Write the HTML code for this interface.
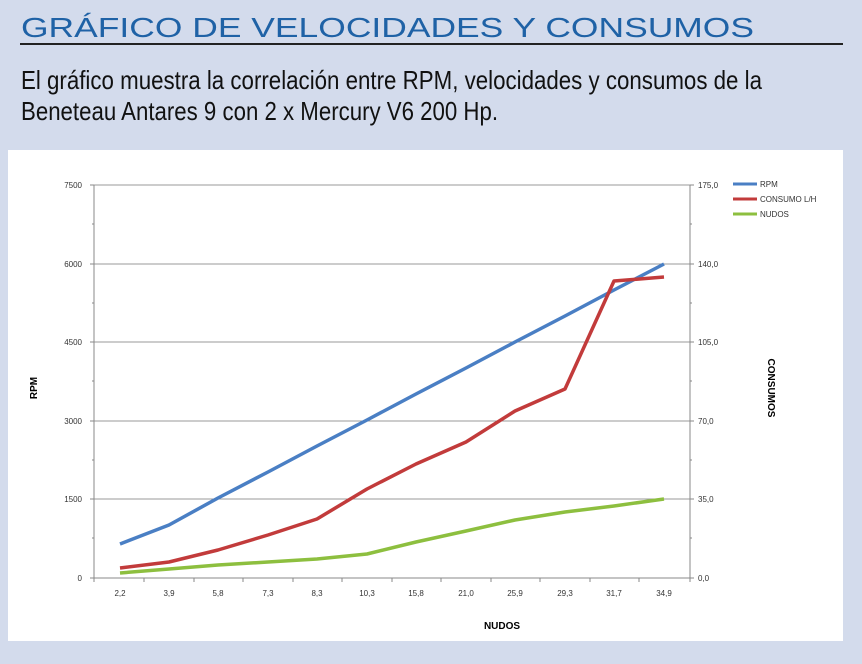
<!DOCTYPE html>
<html><head><meta charset="utf-8"><style>
html,body{margin:0;padding:0;background:#d3dbec;}
svg{display:block}
</style></head><body>
<svg width="862" height="664" viewBox="0 0 862 664" xmlns="http://www.w3.org/2000/svg" font-family="Liberation Sans, sans-serif">
<rect width="862" height="664" fill="#d3dbec"/>
<text x="21" y="37" font-size="28" fill="#1f62a6" textLength="733" lengthAdjust="spacingAndGlyphs">GRÁFICO DE VELOCIDADES Y CONSUMOS</text>
<rect x="20" y="43" width="823" height="2" fill="#222"/>
<text x="21" y="89" font-size="26" fill="#111" textLength="741" lengthAdjust="spacingAndGlyphs">El gráfico muestra la correlación entre RPM, velocidades y consumos de la</text>
<text x="21" y="120" font-size="26" fill="#111" textLength="477" lengthAdjust="spacingAndGlyphs">Beneteau Antares 9 con 2 x Mercury V6 200 Hp.</text>
<rect x="8" y="150" width="835" height="491" fill="#fff"/>
<g stroke="#999" stroke-width="1">
<line x1="94" y1="185" x2="690" y2="185"/>
<line x1="94" y1="264" x2="690" y2="264"/>
<line x1="94" y1="342" x2="690" y2="342"/>
<line x1="94" y1="421" x2="690" y2="421"/>
<line x1="94" y1="499" x2="690" y2="499"/>
</g>
<g stroke="#888" stroke-width="1">
<line x1="94" y1="578" x2="690" y2="578"/>
<line x1="94" y1="185" x2="94" y2="578"/>
<line x1="690" y1="185" x2="690" y2="578"/>
<path d="M90 185h4M90 264h4M90 342h4M90 421h4M90 499h4M90 578h4M690 185h4M690 264h4M690 342h4M690 421h4M690 499h4M690 578h4M92 224h2M92 303h2M92 381h2M92 460h2M92 538h2M690 224h2M690 303h2M690 381h2M690 460h2M690 538h2"/>
<path d="M144 578v4M194 578v4M243 578v4M293 578v4M342 578v4M392 578v4M441 578v4M491 578v4M540 578v4M590 578v4M639 578v4M94 578v4M690 578v4"/>
</g>
<g font-size="8" fill="#333">
<text x="82" y="188" text-anchor="end">7500</text>
<text x="82" y="267" text-anchor="end">6000</text>
<text x="82" y="345" text-anchor="end">4500</text>
<text x="82" y="424" text-anchor="end">3000</text>
<text x="82" y="502" text-anchor="end">1500</text>
<text x="82" y="581" text-anchor="end">0</text>
<text x="698" y="188">175,0</text>
<text x="698" y="267">140,0</text>
<text x="698" y="345">105,0</text>
<text x="698" y="424">70,0</text>
<text x="698" y="502">35,0</text>
<text x="698" y="581">0,0</text>
<g text-anchor="middle">
<text x="120" y="596">2,2</text><text x="169" y="596">3,9</text><text x="218" y="596">5,8</text><text x="268" y="596">7,3</text><text x="317" y="596">8,3</text><text x="367" y="596">10,3</text><text x="416" y="596">15,8</text><text x="466" y="596">21,0</text><text x="515" y="596">25,9</text><text x="565" y="596">29,3</text><text x="614" y="596">31,7</text><text x="664" y="596">34,9</text>
</g>
<text x="760" y="187">RPM</text>
<text x="760" y="202">CONSUMO L/H</text>
<text x="760" y="217">NUDOS</text>
</g>
<line x1="733" y1="184" x2="757" y2="184" stroke="#4a7fc4" stroke-width="3"/>
<line x1="733" y1="199" x2="757" y2="199" stroke="#c23b3b" stroke-width="3"/>
<line x1="733" y1="214" x2="757" y2="214" stroke="#8dbf3f" stroke-width="3"/>
<g font-size="10" font-weight="bold" fill="#000">
<text x="502" y="629" text-anchor="middle">NUDOS</text>
<text transform="translate(37,388) rotate(-90)" text-anchor="middle">RPM</text>
<text transform="translate(768,388) rotate(90)" text-anchor="middle">CONSUMOS</text>
</g>
<g fill="none" stroke-width="3.5" stroke-linejoin="round">
<polyline stroke="#4a7fc4" points="120,544 169,525 218,498 268,472 317,446 367,420 416,394 466,368 515,342 565,316 614,290 664,264"/>
<polyline stroke="#c23b3b" points="120,568 169,562 218,550 268,535 317,519 367,489 416,464 466,442 515,411 565,389 614,281 664,277"/>
<polyline stroke="#8dbf3f" points="120,573 169,569 218,565 268,562 317,559 367,554 416,542 466,531 515,520 565,512 614,506 664,499"/>
</g>
</svg>
</body></html>
